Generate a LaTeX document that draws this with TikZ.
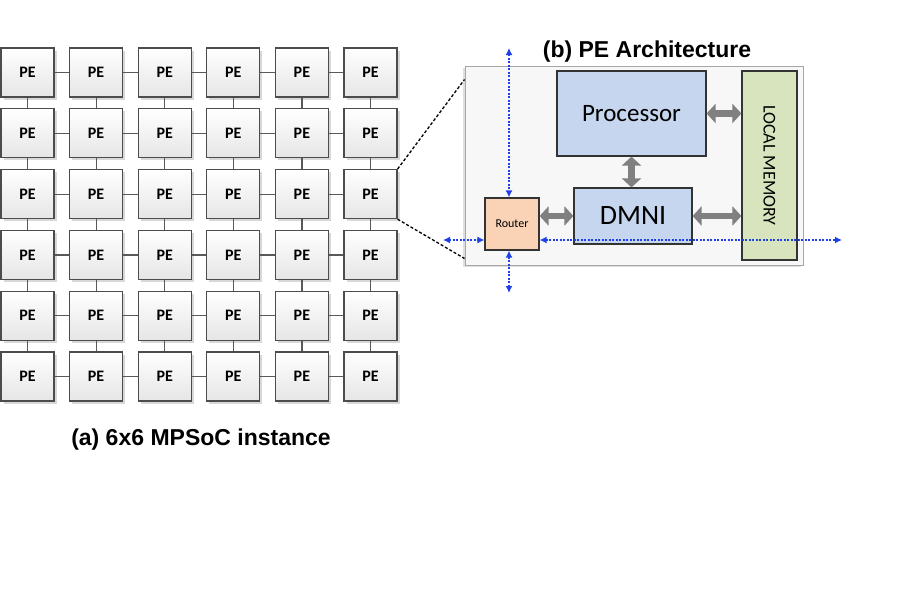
\documentclass[tikz,border=0pt]{standalone}
\usepackage{fontspec}
\setmainfont{Liberation Sans}
\newfontfamily\calibri{Carlito}
\usetikzlibrary{arrows.meta,positioning,shadows,calc}

\definecolor{cpublue}{HTML}{C6D6EE}
\definecolor{memgreen}{HTML}{D7E4BD}
\definecolor{routerpeach}{HTML}{FAD3B6}
\definecolor{nocblue}{HTML}{1F3FE8}

\begin{document}
\begin{tikzpicture}[x=1pt, y=-1pt,
                    every pe/.style = {top color=white, bottom color=black!10},
                    pe/.style = {rectangle, draw=black!70, line width=1.2pt, minimum width=53pt, minimum height=49pt,
                            every pe, drop shadow={shadow xshift=2.5pt, shadow yshift=-2.5pt, fill=black!30},
                            font=\calibri\bfseries\fontsize{16}{16}\selectfont},
                    mesh link/.style = {draw=black!65, line width=1.2pt},
                    every unit/.style = {rectangle, draw=black!80, line width=1.2pt, inner sep=0pt},
                    processor unit/.style = {every unit, fill=cpublue, minimum width=149pt, minimum height=85pt},
                    dmni unit/.style = {every unit, fill=cpublue, minimum width=118pt, minimum height=56pt},
                    memory unit/.style = {every unit, fill=memgreen, minimum width=55pt, minimum height=189pt},
                    router unit/.style = {every unit, fill=routerpeach, minimum width=54pt, minimum height=52pt},
                    bus/.style = {draw=black!50, line width=6.5pt, {Triangle[width=19pt,length=9pt]}-{Triangle[width=19pt,length=9pt]}},
                    noc/.style = {draw=nocblue, line width=1.5pt, dash pattern=on 2pt off 1.5pt, {Latex[length=7pt,width=7pt]}-{Latex[length=7pt,width=7pt]}},
                    zoom line/.style = {draw=black, line width=1.3pt, dash pattern=on 3pt off 2pt},
                    caption/.style = {font=\bfseries\fontsize{23}{23}\selectfont} ]

                \useasboundingbox (0,0) rectangle (905,608);

                % 6x6 mesh
                \foreach \r in {1,...,6}
                    \foreach \c in {1,...,6}
                        \node [pe] (pe-\r-\c) at ({27.5+68.6*(\c-1)}, {72.5+60.8*(\r-1)}) {PE};
                \foreach \r in {1,...,6}
                    \foreach \c [count=\n from 2] in {1,...,5}
                        \draw [mesh link] (pe-\r-\c) -- (pe-\r-\n);
                \foreach \c in {1,...,6}
                    \foreach \r [count=\n from 2] in {1,...,5}
                        \draw [mesh link] (pe-\r-\c) -- (pe-\n-\c);
                \node [caption] (mesh caption) at (201,440) {(a) 6x6 MPSoC instance};

                % PE architecture
                \node [rectangle, draw=black!35, line width=1pt, fill=black!3, minimum width=338pt, minimum height=199pt,
                       drop shadow={shadow xshift=-2pt, shadow yshift=-2pt, fill=black!25}] (panel) at (634,165.5) {};
                \node [caption] (panel caption) at (647,52) {(b) PE Architecture};
                \node [processor unit] (processor) at (631.5,113.5) {\calibri\fontsize{25}{25}\selectfont Processor};
                \node [dmni unit] (dmni) at (633,216) {\calibri\fontsize{28}{28}\selectfont DMNI};
                \node [memory unit] (memory) at (769.5,165.5) {};
                \node [rotate=-90, font=\calibri\fontsize{18}{18}\selectfont] (memory label) at (memory.center) {LOCAL MEMORY};
                \node [router unit] (router) at (512,224) {\calibri\fontsize{12}{12}\selectfont Router};

                \draw [bus] (processor.east) -- (processor.east -| memory.west);
                \draw [bus] (dmni.east) -- (dmni.east -| memory.west);
                \draw [bus] (dmni.west -| router.east) -- (dmni.west);
                \draw [bus] (processor.south) -- (processor.south |- dmni.north);

                % router ports
                \coordinate (north port) at (509,48);
                \coordinate (south port) at (509,293);
                \coordinate (west port) at (443,240);
                \coordinate (east port) at (842,240);
                \draw [noc] (north port) -- (north port |- router.north);
                \draw [noc] (south port |- router.south) -- (south port);
                \draw [noc] (west port) -- (west port -| router.west);
                \draw [noc] (east port -| router.east) -- (east port);

                % zoom
                \draw [zoom line] (pe-3-6.north east) -- ($(panel.north west)!.07!(panel.south west)$);
                \draw [zoom line] (pe-3-6.south east) -- ($(panel.north west)!.965!(panel.south west)$);

            \end{tikzpicture}
\end{document}
